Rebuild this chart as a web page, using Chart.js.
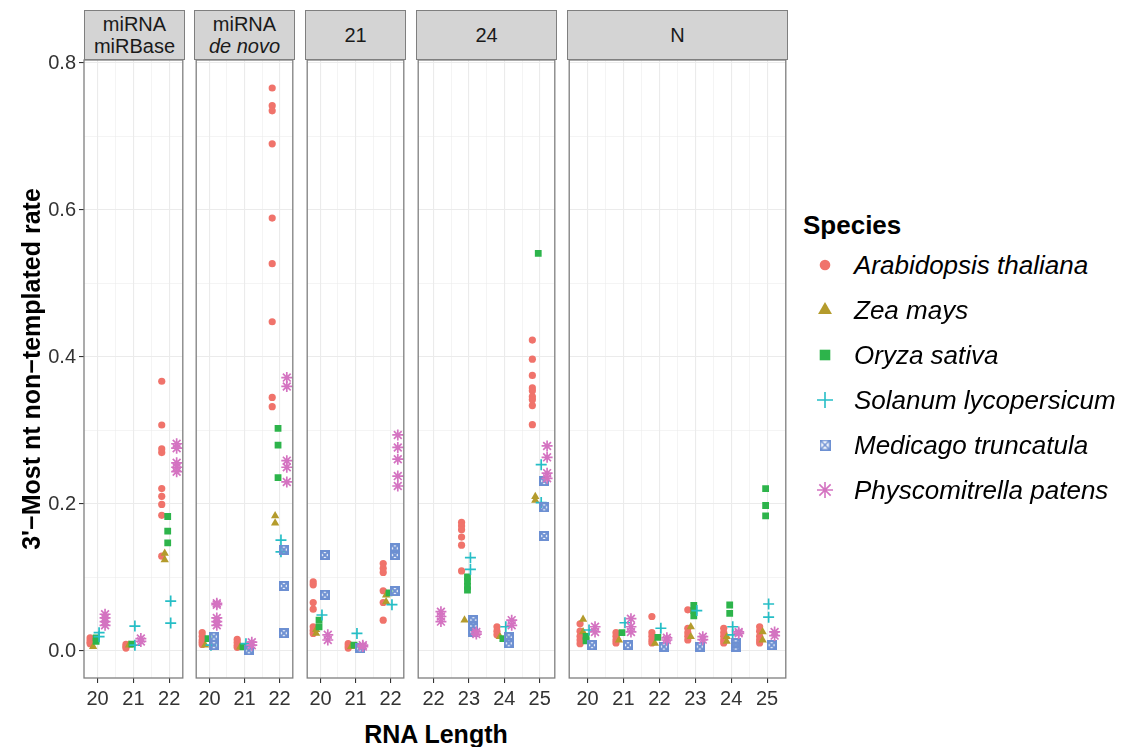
<!DOCTYPE html>
<html>
<head>
<meta charset="utf-8">
<script src="https://cdn.jsdelivr.net/npm/chart.js@4.4.1/dist/chart.umd.min.js"></script>
<style>
  body { margin: 0; background: #fff; font-family: 'Liberation Sans', Arial, sans-serif; }
  #wrap { position: relative; width: 1128px; height: 747px; overflow: hidden; background: #fff; }
  #wrap canvas.panel { position: absolute; }
  .strip { position: absolute; top: 10px; height: 50px; box-sizing: border-box; background: #d4d4d4;
           border: 1px solid #7f7f7f; display: flex; align-items: center; justify-content: center;
           text-align: center; font-size: 20px; line-height: 22px; color: #1a1a1a; }
  #xtitle { position: absolute; left: 84px; width: 704px; top: 720px; text-align: center;
            font-size: 25px; font-weight: bold; color: #000; }
  #legend-title { position: absolute; left: 803px; top: 210px; font-size: 26px; font-weight: bold; color: #000; }
  .lg-row { position: absolute; left: 810px; height: 30px; display: flex; align-items: center; }
  .lg-row span { font-size: 26px; font-style: italic; color: #000; margin-left: 14px; }
</style>
</head>
<body>
<div id="wrap">
  <div id="xtitle">RNA Length</div>
  <div id="legend-title">Species</div>
</div>
<script>
// facet labels and the RNA lengths shown in each facet
const panelLabels = ['miRNA<br>miRBase', 'miRNA<br><i>de novo</i>', '21', '24', 'N'];
const panelLengths = [[20, 21, 22], [20, 21, 22], [20, 21, 22], [22, 23, 24, 25], [20, 21, 22, 23, 24, 25]];
const yTicks = [0, 0.1, 0.2, 0.3, 0.4, 0.5, 0.6, 0.7, 0.8];

const species = ['Arabidopsis thaliana', 'Zea mays', 'Oryza sativa',
                 'Solanum lycopersicum', 'Medicago truncatula', 'Physcomitrella patens'];

// rates per facet, per RNA length (same order as panelLengths)
const arabidopsis = [
  [[0.018, 0.015, 0.012, 0.01], [0.009, 0.006, 0.004], [0.367, 0.3075, 0.275, 0.27, 0.221, 0.2105, 0.1995, 0.1846, 0.129]],
  [[0.025, 0.02, 0.015, 0.012, 0.009], [0.016, 0.012, 0.008, 0.005], [0.766, 0.742, 0.735, 0.69, 0.589, 0.527, 0.448, 0.345, 0.3325]],
  [[0.094, 0.09, 0.066, 0.057, 0.033, 0.028, 0.024], [0.01, 0.007, 0.004], [0.119, 0.1125, 0.107, 0.082, 0.066, 0.042]],
  [[], [0.175, 0.17, 0.165, 0.155, 0.144, 0.109], [0.033, 0.027, 0.022], [0.423, 0.397, 0.375, 0.358, 0.354, 0.346, 0.342, 0.334, 0.308]],
  [[0.037, 0.027, 0.02, 0.015, 0.01], [0.025, 0.02, 0.015, 0.011], [0.047, 0.025, 0.02, 0.015, 0.011],
   [0.056, 0.031, 0.025, 0.02, 0.015], [0.031, 0.025, 0.02, 0.015, 0.011], [0.033, 0.027, 0.02, 0.015, 0.011]],
];
const zeaMays = [
  [[0.006], [0.008], [0.133, 0.124]],
  [[0.008], [0.0055], [0.184, 0.174]],
  [[0.029, 0.024], [0.006], [0.076, 0.067]],
  [[], [0.042], [0.0195], [0.21, 0.205]],
  [[0.043, 0.026], [0.015], [0.0105], [0.033, 0.0195], [0.0195, 0.013], [0.026, 0.015]],
];
const oryzaSativa = [
  [[0.018, 0.013], [0.0095], [0.183, 0.163, 0.147]],
  [[0.017], [0.0056], [0.303, 0.28, 0.236]],
  [[0.042, 0.033], [0.008], [0.079]],
  [[], [0.101, 0.095, 0.088, 0.083], [0.017], [0.541]],
  [[0.02, 0.014], [0.025], [0.0186], [0.062, 0.055, 0.048], [0.0626, 0.0513], [0.221, 0.198, 0.184]],
];
const solanum = [
  [[0.025, 0.0195], [0.034, 0.008], [0.068, 0.038]],
  [[0.008], [0.01], [0.151, 0.135]],
  [[0.049], [0.024], [0.063]],
  [[], [0.127, 0.111], [0.033], [0.2535, 0.202]],
  [[0.0286], [0.0385], [0.031], [0.055], [0.033, 0.022], [0.064, 0.046]],
];
const medicago = [
  [[], [], []],
  [[0.0196, 0.008], [0.001], [0.138, 0.0886, 0.0243]],
  [[0.1306, 0.0766], [0.0037], [0.1397, 0.1306, 0.0816]],
  [[], [0.042, 0.034, 0.026], [0.0186, 0.0105], [0.2313, 0.1955, 0.1565]],
  [[0.008], [0.008], [0.006], [0.006], [0.0105, 0.006], [0.008]],
];
const physcomitrella = [
  [[0.05, 0.045, 0.04, 0.035], [0.017, 0.013], [0.282, 0.276, 0.256, 0.25, 0.244]],
  [[0.065, 0.063, 0.045, 0.04, 0.035], [0.012, 0.008], [0.372, 0.36, 0.259, 0.25, 0.23]],
  [[0.022, 0.015], [0.008, 0.006], [0.294, 0.277, 0.261, 0.238, 0.2245]],
  [[0.0535, 0.047, 0.04], [0.026, 0.023], [0.042, 0.035], [0.279, 0.2635, 0.242, 0.235]],
  [[0.033, 0.026], [0.044, 0.033, 0.026], [0.018, 0.015], [0.0195, 0.0155], [0.026, 0.024], [0.026, 0.021]],
];
const seriesValues = [arabidopsis, zeaMays, oryzaSativa, solanum, medicago, physcomitrella];

// --- styling / layout ---
const FONT = "'Liberation Sans', Arial, sans-serif";
const colors = ['#f0736b', '#b49b2c', '#2db44b', '#26bec6', '#6d90d2', '#d473c1'];
const dodgeWidth = 0.5;

// panel pixel extents and x limits (ggplot free x, free space)
const panelBox = [
  { left: 84, right: 185, xmin: 19.62, xmax: 22.38 },
  { left: 194, right: 295, xmin: 19.62, xmax: 22.38 },
  { left: 305, right: 406, xmin: 19.62, xmax: 22.38 },
  { left: 416, right: 557, xmin: 21.566, xmax: 25.426 },
  { left: 567, right: 788, xmin: 19.489, xmax: 25.52 },
];
const PANEL_TOP = 60;
const Y_MIN = -0.0367, Y_MAX = 0.8041;

function boxCross(size, color, lw) {
  const c = document.createElement('canvas');
  c.width = c.height = size;
  const g = c.getContext('2d');
  g.strokeStyle = color;
  g.lineWidth = lw;
  const p = lw / 2;
  g.strokeRect(p, p, size - lw, size - lw);
  g.beginPath();
  g.moveTo(p, p); g.lineTo(size - p, size - p);
  g.moveTo(size - p, p); g.lineTo(p, size - p);
  g.stroke();
  return c;
}

const pointStyles = ['circle', 'triangle', 'rect', 'cross', boxCross(10, colors[4], 2), 'star'];
const pointRadii = [3.6, 4.8, 4.8, 5.5, 5, 5.5];
const legendStyles = ['circle', 'triangle', 'rect', 'cross', boxCross(11, colors[4], 1.6), 'star'];
const legendRadii = [5.3, 8, 7.5, 8, 6, 8];

const panelBorder = {
  id: 'panelBorder',
  afterDatasetsDraw(chart) {
    const { ctx, chartArea: a } = chart;
    ctx.save();
    ctx.strokeStyle = '#7f7f7f';
    ctx.lineWidth = 1.3;
    ctx.strokeRect(a.left, a.top, a.right - a.left, a.bottom - a.top);
    ctx.restore();
  }
};

const isMajorY = v => Math.round(v * 10) % 2 === 0;

const wrap = document.getElementById('wrap');

panelLengths.forEach((lengths, p) => {
  const box = panelBox[p];
  const first = p === 0;
  const padL = first ? 0 : 5;
  const canvasLeft = first ? 0 : box.left - 5;
  const width = box.right + 5 - canvasLeft;
  const top = PANEL_TOP - 20;
  const height = 715 - top;

  const strip = document.createElement('div');
  strip.className = 'strip';
  strip.style.left = box.left + 'px';
  strip.style.width = (box.right - box.left) + 'px';
  strip.innerHTML = '<span>' + panelLabels[p] + '</span>';
  wrap.appendChild(strip);

  const cv = document.createElement('canvas');
  cv.className = 'panel';
  cv.width = width; cv.height = height;
  cv.style.left = canvasLeft + 'px';
  cv.style.top = top + 'px';
  cv.style.width = width + 'px';
  cv.style.height = height + 'px';
  wrap.appendChild(cv);

  const datasets = species.map((name, s) => {
    const offset = (s - (species.length - 1) / 2) * dodgeWidth / species.length;
    const data = [];
    lengths.forEach((len, k) => {
      (seriesValues[s][p][k] || []).forEach(v => data.push({ x: len + offset, y: v }));
    });
    const stroked = s === 3 || s === 5;
    return {
      label: name,
      data,
      order: species.length - s,
      pointStyle: pointStyles[s],
      pointRadius: pointRadii[s],
      pointHoverRadius: pointRadii[s],
      backgroundColor: colors[s],
      borderColor: colors[s],
      pointBorderWidth: stroked ? 1.7 : 0,
    };
  });

  new Chart(cv, {
    type: 'scatter',
    data: { datasets },
    plugins: [panelBorder],
    options: {
      responsive: false,
      animation: false,
      devicePixelRatio: 1,
      layout: { padding: { top: 20, right: 5, bottom: 0, left: padL } },
      plugins: { legend: { display: false }, tooltip: { enabled: false } },
      scales: {
        x: {
          type: 'linear',
          min: box.xmin, max: box.xmax,
          afterBuildTicks: s => {
            const t = [];
            for (let v = Math.ceil(s.min * 2) / 2; v <= s.max; v += 0.5) t.push({ value: v });
            s.ticks = t;
          },
          afterFit: s => { s.height = 37; },
          ticks: {
            autoSkip: false, maxRotation: 0, minRotation: 0, padding: 4,
            font: { family: FONT, size: 20 }, color: '#333',
            callback: v => Number.isInteger(v) ? String(v) : '',
          },
          grid: {
            color: '#ebebeb',
            lineWidth: c => Number.isInteger(c.tick.value) ? 1.1 : 0.55,
            tickLength: 5,
            tickWidth: 1.1,
            tickColor: c => Number.isInteger(c.tick.value) ? '#333' : 'rgba(0,0,0,0)',
          },
          border: { display: false },
        },
        y: {
          type: 'linear',
          min: Y_MIN, max: Y_MAX,
          afterBuildTicks: s => { s.ticks = yTicks.map(v => ({ value: v })); },
          afterFit: s => { s.width = first ? 84 : 0; },
          ticks: {
            display: first, padding: 3,
            font: { family: FONT, size: 20 }, color: '#333',
            callback: v => isMajorY(v) ? v.toFixed(1) : '',
          },
          grid: {
            color: '#ebebeb',
            lineWidth: c => isMajorY(c.tick.value) ? 1.1 : 0.55,
            drawTicks: first,
            tickLength: 5,
            tickWidth: 1.1,
            tickColor: c => isMajorY(c.tick.value) ? '#333' : 'rgba(0,0,0,0)',
          },
          border: { display: false },
          title: {
            display: first,
            text: "3'\u2212Most nt non\u2212templated rate",
            font: { family: FONT, size: 25, weight: 'bold' },
            color: '#000',
            padding: { top: 18, bottom: 0 },
          },
        },
      },
    },
  });
});

// legend
species.forEach((name, s) => {
  const row = document.createElement('div');
  row.className = 'lg-row';
  row.style.top = (265 + 45 * s - 15) + 'px';
  const c = document.createElement('canvas');
  c.width = 30; c.height = 30;
  const g = c.getContext('2d');
  g.fillStyle = colors[s];
  g.strokeStyle = colors[s];
  g.lineWidth = 1.6;
  const opts = { pointStyle: legendStyles[s], radius: legendRadii[s], rotation: 0,
                 borderWidth: (s === 3 || s === 5) ? 1.6 : 0 };
  Chart.helpers.drawPoint(g, opts, 15, 15);
  row.appendChild(c);
  const t = document.createElement('span');
  t.textContent = name;
  row.appendChild(t);
  wrap.appendChild(row);
});
</script>
</body>
</html>
